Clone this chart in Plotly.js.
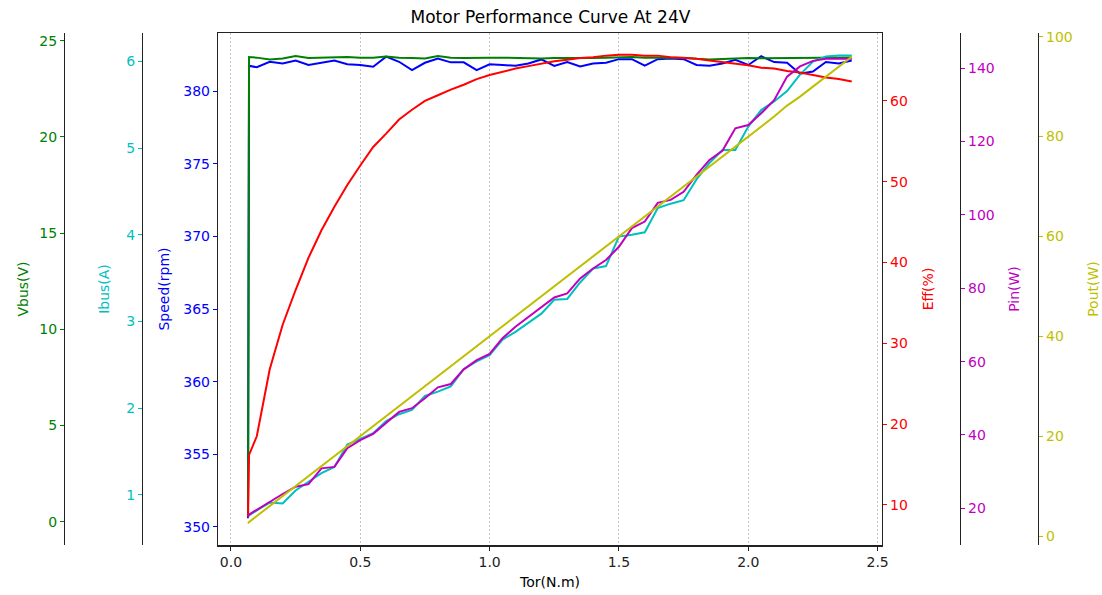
<!DOCTYPE html>
<html>
<head>
<meta charset="utf-8">
<script src="https://cdn.plot.ly/plotly-3.0.1.min.js"></script>
<style>html,body{margin:0;padding:0;background:#fff;}#chart{width:1102px;height:595px;}</style>
</head>
<body>
<div id="chart"></div>
<script>
// ---- Data ----
var torque = [0.066, 0.07, 0.10, 0.15, 0.20, 0.25, 0.30, 0.35, 0.40, 0.45, 0.50, 0.55, 0.60, 0.65, 0.70, 0.75, 0.80, 0.85, 0.90, 0.95, 1.00, 1.05, 1.10, 1.15, 1.20, 1.25, 1.30, 1.35, 1.40, 1.45, 1.50, 1.55, 1.60, 1.65, 1.70, 1.75, 1.80, 1.85, 1.90, 1.95, 2.00, 2.05, 2.10, 2.15, 2.20, 2.25, 2.30, 2.35, 2.40];
var vbus = [0.3, 24.15, 24.12, 24.02, 24.08, 24.2, 24.1, 24.12, 24.13, 24.15, 24.12, 24.12, 24.18, 24.12, 24.1, 24.08, 24.2, 24.12, 24.1, 24.12, 24.11, 24.12, 24.1, 24.09, 24.08, 24.1, 24.09, 24.1, 24.1, 24.11, 24.12, 24.15, 24.12, 24.11, 24.13, 24.12, 24.06, 24.02, 24.05, 24.08, 24.1, 24.09, 24.1, 24.11, 24.1, 24.12, 24.12, 24.13, 24.13];
var ibus = [0.74, 0.76, 0.82, 0.91, 0.90, 1.05, 1.15, 1.25, 1.32, 1.58, 1.646, 1.71, 1.85, 1.93, 1.98, 2.14, 2.19, 2.25, 2.45, 2.54, 2.61, 2.79, 2.88, 2.98, 3.09, 3.25, 3.26, 3.45, 3.61, 3.64, 3.98, 4.00, 4.03, 4.31, 4.36, 4.40, 4.64, 4.83, 4.98, 4.98, 5.25, 5.44, 5.54, 5.66, 5.85, 6.00, 6.06, 6.07, 6.07];
var speed = [350.6, 381.75, 381.64, 382.02, 381.9, 382.1, 381.8, 381.95, 382.1, 381.85, 381.8, 381.68, 382.37, 382.02, 381.45, 381.95, 382.25, 381.98, 381.98, 381.45, 381.85, 381.8, 381.75, 381.9, 382.18, 381.73, 382.0, 381.7, 381.9, 381.95, 382.2, 382.2, 381.75, 382.2, 382.25, 382.2, 381.8, 381.75, 381.9, 382.15, 381.8, 382.4, 382.0, 381.95, 381.2, 381.35, 382.0, 381.9, 382.1];
var eff = [8.5, 16.2, 18.5, 26.8, 32.3, 36.6, 40.6, 44.0, 46.9, 49.6, 52.0, 54.3, 55.95, 57.7, 58.9, 60.0, 60.7, 61.4, 62.0, 62.7, 63.2, 63.6, 64.0, 64.3, 64.6, 64.9, 65.1, 65.3, 65.4, 65.6, 65.7, 65.7, 65.6, 65.6, 65.4, 65.3, 65.2, 65.0, 64.8, 64.6, 64.4, 64.1, 64.0, 63.7, 63.5, 63.2, 62.9, 62.7, 62.4];
var pin = [18.0, 18.3, 19.6, 21.8, 23.9, 25.9, 26.6, 30.9, 31.3, 36.4, 38.6, 40.3, 43.2, 46.3, 47.3, 50.0, 53.0, 53.9, 57.9, 60.4, 62.1, 66.4, 69.5, 72.2, 74.9, 77.5, 78.6, 82.7, 85.4, 87.7, 91.3, 96.4, 98.2, 103.3, 104.1, 106.3, 110.9, 115.0, 117.5, 123.6, 124.5, 127.7, 131.3, 137.7, 140.5, 142.0, 142.6, 142.6, 142.6];
var pout = [2.5, 2.8, 4.0, 6.0, 8.0, 10.0, 12.0, 14.0, 16.0, 18.0, 20.0, 22.0, 24.0, 26.0, 27.95, 30.0, 32.0, 34.0, 36.0, 37.95, 40.0, 42.0, 44.0, 46.0, 48.0, 50.0, 52.0, 54.0, 56.0, 58.0, 60.0, 62.0, 64.0, 66.0, 68.0, 70.0, 72.0, 74.0, 76.0, 78.0, 80.0, 82.0, 84.0, 86.2, 88.0, 90.0, 92.0, 94.0, 96.0];

var xTicks = [0, 0.5, 1.0, 1.5, 2.0, 2.5];
var xTickText = ["0.0", "0.5", "1.0", "1.5", "2.0", "2.5"];

// ---- Styling ----
var C = {vbus:'#008000', ibus:'#00bfbf', speed:'#0000ff', eff:'#ff0000', pin:'#bf00bf', pout:'#bfbf00'};
var FONT = 'DejaVu Sans, sans-serif';
var W = 1102;

function line(y, axis, color, name) {
  return {x: torque, y: y, yaxis: axis, type: 'scatter', mode: 'lines', name: name,
          line: {color: color, width: 2}, hoverinfo: 'skip'};
}

var traces = [
  line(speed, 'y', C.speed, 'Speed(rpm)'),
  line(vbus, 'y2', C.vbus, 'Vbus(V)'),
  line(ibus, 'y3', C.ibus, 'Ibus(A)'),
  line(pin, 'y5', C.pin, 'Pin(W)'),
  line(pout, 'y6', C.pout, 'Pout(W)'),
  line(eff, 'y4', C.eff, 'Eff(%)')
];

function yax(color, title, range, tick0, dtick, standoff, extra) {
  var a = {
    range: range, tick0: tick0, dtick: dtick, tickmode: 'linear',
    ticks: 'outside', ticklen: 4, tickwidth: 1, tickcolor: color,
    tickfont: {family: FONT, size: 14, color: color},
    showline: true, linecolor: '#222', linewidth: 1.2,
    showgrid: false, zeroline: false, fixedrange: true,
    title: {text: title, font: {family: FONT, size: 14, color: color}, standoff: standoff}
  };
  for (var k in extra) a[k] = extra[k];
  return a;
}

var layout = {
  width: 1102, height: 595,
  margin: {l: 0, r: 0, t: 33, b: 50, pad: 0},
  paper_bgcolor: '#ffffff', plot_bgcolor: '#ffffff',
  showlegend: false, hovermode: false,
  title: {text: 'Motor Performance Curve At 24V', font: {family: FONT, size: 17, color: '#000'},
          x: 0.4995, xref: 'paper', xanchor: 'center', y: 1 - 17/595, yref: 'container', yanchor: 'middle'},
  xaxis: {
    domain: [218/W, 882/W], range: [-0.05, 2.517],
    tickmode: 'array', tickvals: xTicks, ticktext: xTickText,
    ticks: 'outside', ticklen: 4, tickcolor: '#222',
    tickfont: {family: FONT, size: 14, color: '#222'},
    showline: true, mirror: true, linecolor: '#222', linewidth: 1.5,
    showgrid: true, gridcolor: '#c4c4c4', griddash: '2px,2px', gridwidth: 1,
    zeroline: false, fixedrange: true,
    title: {text: 'Tor(N.m)', font: {family: FONT, size: 14, color: '#000'}, standoff: 8}
  },
  yaxis: yax(C.speed, 'Speed(rpm)', [348.76, 384.0], 350, 5, 10, {anchor: 'x', side: 'left'}),
  yaxis2: yax(C.vbus, 'Vbus(V)', [-1.21, 25.4], 0, 5, 6, {overlaying: 'y', anchor: 'free', position: 64/W, side: 'left'}),
  yaxis3: yax(C.ibus, 'Ibus(A)', [0.42, 6.33], 1, 1, 12, {overlaying: 'y', anchor: 'free', position: 142/W, side: 'left'}),
  yaxis4: yax(C.eff, 'Eff(%)', [5.05, 68.4], 10, 10, 16, {overlaying: 'y', anchor: 'x', side: 'right'}),
  yaxis5: yax(C.pin, 'Pin(W)', [10.0, 149.6], 20, 20, 15, {overlaying: 'y', anchor: 'free', position: 960/W, side: 'right'}),
  yaxis6: yax(C.pout, 'Pout(W)', [-1.8, 100.74], 0, 20, 16, {overlaying: 'y', anchor: 'free', position: 1038/W, side: 'right'})
};

Plotly.newPlot('chart', traces, layout, {displayModeBar: false, staticPlot: true, responsive: false});
</script>
</body>
</html>
